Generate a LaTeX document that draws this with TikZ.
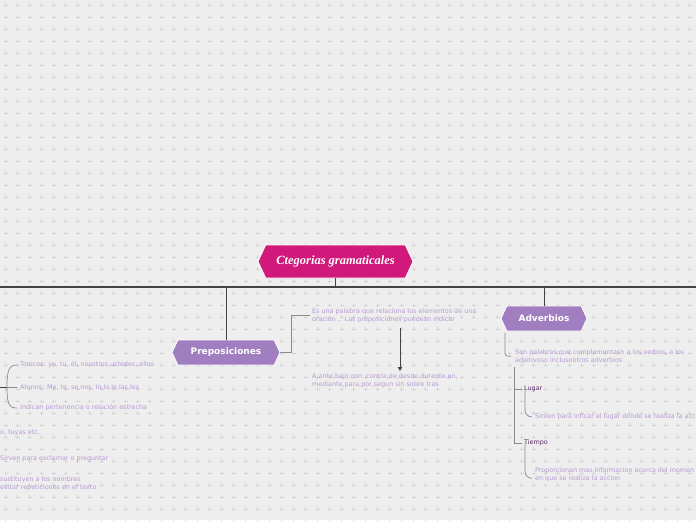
\documentclass[tikz,border=0pt]{standalone}
\usepackage{fontspec}
\setmainfont{DejaVu Sans}
\newfontfamily\titlefont{Liberation Serif}
\usetikzlibrary{shapes.symbols,arrows.meta}
\definecolor{bg}{HTML}{EEEEEE}
\definecolor{gridc}{HTML}{D6D6D6}
\definecolor{mag}{HTML}{D0197A}
\definecolor{lav}{HTML}{A07EC0}
\definecolor{ltxt}{HTML}{B79AD3}
\definecolor{dtxt}{HTML}{5A2A6A}
\definecolor{mainline}{HTML}{444444}
\definecolor{thinline}{HTML}{8A8A8A}
\begin{document}
\begin{tikzpicture}[x=1pt,y=-1pt,
 hexa/.style={signal, signal to=east and west, signal pointer angle=130, draw=white, line width=0.8pt, text=white, inner sep=0pt},
 desc/.style={text=ltxt, font=\fontsize{6.4}{8}\selectfont, align=left, inner sep=0pt},
 sub/.style={text=dtxt, font=\fontsize{6.4}{8}\selectfont, inner sep=0pt},
 mainln/.style={draw=mainline, line width=1.3pt},
 branch/.style={draw=mainline, line width=0.9pt},
 conn/.style={draw=thinline, line width=0.7pt}]
\useasboundingbox (0,0) rectangle (696,520);
\clip (0,0) rectangle (696,520);
\fill[bg] (0,0) rectangle (696,520);
\foreach \i in {0,...,58} \foreach \j in {0,...,43} {
  \draw[gridc, line width=0.35pt] (\i*12+3.5, \j*12+5) -- ++(4,0) (\i*12+5.5, \j*12+3) -- ++(0,4);
}
% main line
\coordinate (hl) at (0,287);
\coordinate (hr) at (696,287);
\draw[mainln] (hl) -- (hr);
% root
\node[hexa, fill=mag, minimum width=155pt, minimum height=33pt, font=\titlefont\fontsize{12.5}{13}\selectfont\bfseries\itshape] (root) at (335.5,261.5) {Ctegorias gramaticales};
\draw[branch] (root.south) -- (root.south |- hl);
% preposiciones
\node[hexa, fill=lav, minimum width=108pt, minimum height=25pt, font=\fontsize{9}{9}\selectfont\bfseries] (prep) at (226,352.5) {Preposiciones};
\draw[branch] (prep.north) -- (prep.north |- hl);
% adverbios
\node[hexa, fill=lav, minimum width=86pt, minimum height=25pt, font=\fontsize{9}{9}\selectfont\bfseries] (adv) at (544,318.5) {Adverbios};
\draw[branch] (adv.north) -- (adv.north |- hl);
% preposiciones texts
\node[desc, anchor=north west] (pdesc) at (312,308) {Es una palabra que relaciona los elementos de una\\oracion ,. Las preposiciones puedesn indicar};
\draw[conn] (prep.east) -- ++(11,0) |- ([xshift=-2pt]pdesc.west);
\node[desc, anchor=north west] (plist) at (312,373) {A,ante,bajo,con ,contra,de,desde,durante,en,\\mediante,para,por,segun sin sobre tras};
\coordinate (arrs) at (400,328);
\draw[branch, -{Triangle[length=4pt,width=4.5pt]}] (arrs) -- ([yshift=2pt]arrs |- plist.north);
% adverbios texts
\node[desc, anchor=north west] (adesc) at (515,349) {Son palabras que complementasn a los verbos, a los\\adjetivoso inclusootros adverbios};
\coordinate (a1) at (505,333);
\draw[conn, rounded corners=3pt] (a1) |- ([xshift=-4pt]adesc.west);
\node[sub, anchor=west] (lugar) at (524,389) {Lugar};
\node[sub, anchor=west] (tiempo) at (524,443) {Tiempo};
\coordinate (t0) at (514,367);
\draw[conn] (t0) |- ([xshift=-2pt]lugar.west);
\draw[conn] (t0) |- ([xshift=-2pt]tiempo.west);
\node[desc, anchor=west] (ldesc) at (535,417) {Sirven para inficar el lugar donde se realiza la acc};
\draw[conn, rounded corners=7pt] ([xshift=1pt,yshift=3pt]lugar.south west) |- ([xshift=-3pt]ldesc.west);
\node[desc, anchor=north west] (tdesc) at (535,467) {Proporcionan mas informacion acerca del momen\\en que se realiza la accion};
\draw[conn, rounded corners=7pt] ([xshift=1pt,yshift=3pt]tiempo.south west) |- ([xshift=-3pt,yshift=-4pt]tdesc.west);
% left side
\node[desc, anchor=west] (ton) at (20,365) {Tonicos: yo, tu, él, nosotros,ustedes, ellos};
\node[desc, anchor=west] (ato) at (20,387) {Atonos: Me, te, se,nos, lo,la,le,las,les};
\node[desc, anchor=west] (ind) at (20,408) {Indican pertenencia o relación estrecha};
\coordinate (bl) at (0,387);
\coordinate (bj) at (7,387);
\draw[branch] (bl) -- (bj);
\draw[conn] (bj) .. controls (7,370) and (9,365) .. ([xshift=-3pt]ton.west);
\draw[conn] (bj) .. controls (7,404) and (9,408) .. ([xshift=-3pt]ind.west);
\draw[conn] (bj) -- ([xshift=-3pt]ato.west);
\node[desc, anchor=west] (tuyas) at (0,433) {o, tuyas etc.};
\node[desc, anchor=west] (excl) at (0,459) {Sirven para exclamar o preguntar};
\node[desc, anchor=north west] (sust) at (0,476) {sustituyen a los nombres\\evitar repeticiones en el texto};
\end{tikzpicture}
\end{document}
